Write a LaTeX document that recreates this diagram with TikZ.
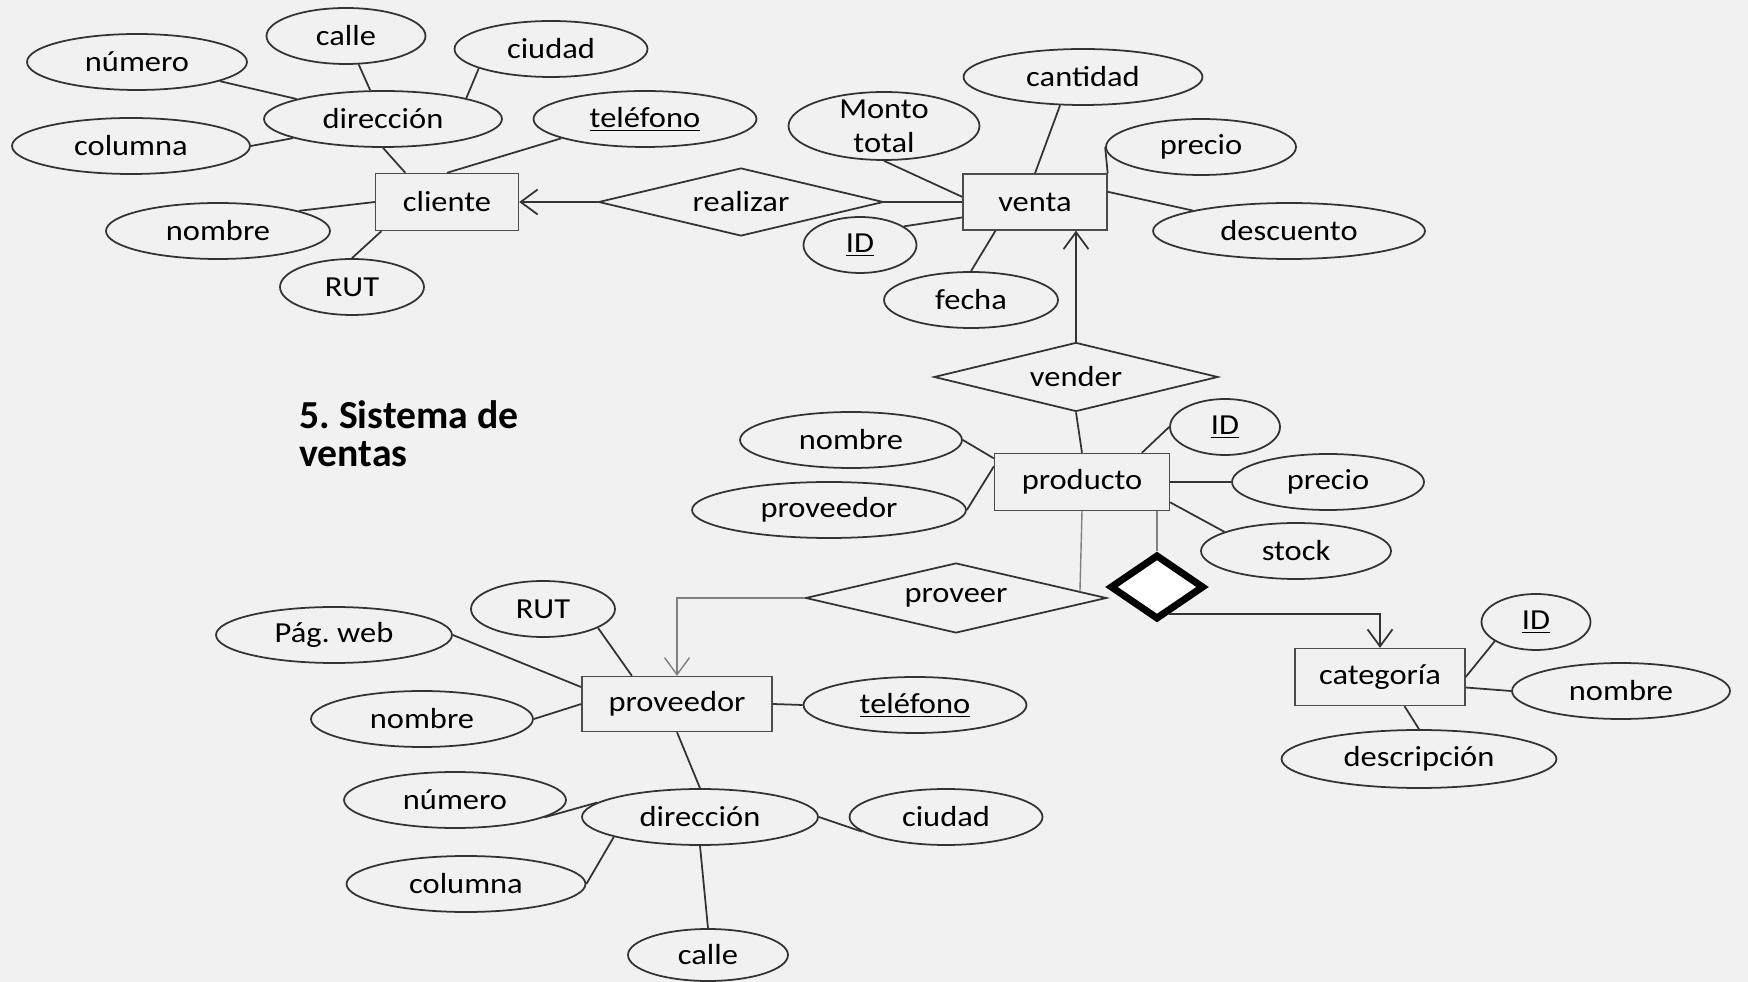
\documentclass[tikz,border=0pt]{standalone}
\usepackage{fontspec}
\setmainfont{Carlito}
\newfontfamily\erfont{Carlito}[FakeStretch=1.12]
\usepackage{tikz}
\usetikzlibrary{arrows.meta, shapes.geometric}
\definecolor{bgcol}{RGB}{241,241,241}
\frenchspacing

\begin{document}
\begin{tikzpicture}[
        x=0.02cm, y=-0.02cm,
        font=\erfont\fontsize{16.5}{19.4}\selectfont,
        entity/.style={rectangle, draw=black!70, line width=0.8pt, minimum height=1.14cm, inner sep=0pt},
        attr/.style={ellipse, draw=black!80, line width=1pt, minimum height=1.12cm, inner sep=0pt},
        rel/.style={diamond, draw=black!80, line width=1pt, aspect=4, inner sep=0pt, minimum height=1.38cm},
        conn/.style={draw=black!80, line width=1pt},
        faint/.style={draw=black!50, line width=0.8pt},
        arrow/.style={-{Straight Barb[length=3.4mm, width=5mm]}}
    ]
        \useasboundingbox (0,0) rectangle (1748,982);
        \fill[bgcol] (0,0) rectangle (1748,982);

        % cliente
        \node[entity, minimum width=2.86cm] (cliente) at (447,202) {cliente};
        \node[attr, minimum width=4.4cm] (numero1) at (137,62) {número};
        \node[attr, minimum width=3.18cm] (calle1) at (346,36) {calle};
        \node[attr, minimum width=3.86cm] (ciudad1) at (551,49) {ciudad};
        \node[attr, minimum width=4.76cm] (direccion1) at (383,119) {dirección};
        \node[attr, minimum width=4.76cm] (columna1) at (131,146) {columna};
        \node[attr, minimum width=4.46cm] (telefono1) at (645,119) {\underline{teléfono}};
        \node[attr, minimum width=4.48cm] (nombre1) at (218,231) {nombre};
        \node[attr, minimum width=2.88cm] (rut1) at (352,287) {RUT};

        \node[rel, minimum width=5.7cm, minimum height=1.36cm] (realizar) at (741,202) {realizar};

        % venta
        \node[entity, minimum width=2.88cm, minimum height=1.12cm] (venta) at (1035,202) {venta};
        \node[attr, minimum width=4.78cm] (cantidad) at (1083,77) {cantidad};
        \node[attr, minimum width=3.82cm, minimum height=1.36cm, inner ysep=-1mm, align=center] (monto) at (884,126) {Monto\\total};
        \node[attr, minimum width=3.8cm] (precio1) at (1201,147) {precio};
        \node[attr, minimum width=5.44cm] (descuento) at (1289,231) {descuento};
        \node[attr, minimum width=2.26cm] (id1) at (860,245) {\underline{ID}};
        \node[attr, minimum width=3.48cm] (fecha) at (971,300) {fecha};

        \node[rel, minimum width=5.68cm] (vender) at (1076,377) {vender};

        % producto
        \node[entity, minimum width=3.5cm] (producto) at (1082,482) {producto};
        \node[attr, minimum width=4.44cm] (nombre2) at (851,440) {nombre};
        \node[attr, minimum width=5.48cm] (proveedor2) at (829,510) {proveedor};
        \node[attr, minimum width=2.2cm] (id2) at (1225,427) {\underline{ID}};
        \node[attr, minimum width=3.84cm] (precio2) at (1328,482) {precio};
        \node[attr, minimum width=3.8cm] (stock) at (1296,551) {stock};

        \node[rel, minimum width=6.02cm, minimum height=1.4cm] (proveer) at (956,598) {proveer};
        \node[rel, draw=black, line width=4pt, fill=white, minimum width=1.88cm, minimum height=1.3cm] (catrel) at (1157,587) {};

        % proveedor
        \node[entity, minimum width=3.8cm, minimum height=1.1cm] (proveedor) at (677,704) {proveedor};
        \node[attr, minimum width=2.88cm] (rut2) at (543,609) {RUT};
        \node[attr, minimum width=4.72cm] (pagweb) at (334,635) {Pág. web};
        \node[attr, minimum width=4.44cm] (nombre3) at (422,719) {nombre};
        \node[attr, minimum width=4.46cm] (telefono2) at (915,705) {\underline{teléfono}};
        \node[attr, minimum width=4.44cm] (numero2) at (455,800) {número};
        \node[attr, minimum width=4.72cm] (direccion2) at (700,817) {dirección};
        \node[attr, minimum width=3.86cm] (ciudad2) at (946,817) {ciudad};
        \node[attr, minimum width=4.78cm] (columna2) at (466,884) {columna};
        \node[attr, minimum width=3.2cm, minimum height=1.04cm] (calle2) at (708,955) {calle};

        % categoria
        \node[entity, minimum width=3.4cm] (categoria) at (1380,677) {categoría};
        \node[attr, minimum width=2.18cm] (id3) at (1536,622) {\underline{ID}};
        \node[attr, minimum width=4.36cm] (nombre4) at (1621,691) {nombre};
        \node[attr, minimum width=5.5cm, minimum height=1.16cm] (descripcion) at (1419,759) {descripción};

        \node[anchor=north west, inner sep=0pt, align=left, font=\normalfont\bfseries\fontsize{22.6}{21.6}\selectfont] (titulo) at (299,400) {5. Sistema de\\ventas};

        \draw[conn] (numero1) -- (direccion1);
        \draw[conn] (calle1) -- (direccion1);
        \draw[conn] (ciudad1.195) -- (direccion1.14);
        \draw[conn] (columna1.east) -- (direccion1.192);
        \draw[conn] (direccion1.south) -- (cliente.145);
        \draw[conn] (telefono1.193) -- (cliente.north);
        \draw[conn] (nombre1.14) -- (cliente.west);
        \draw[conn] (rut1.north) -- (cliente.204);
        \draw[conn, arrow] (realizar.west) -- (cliente.east);
        \draw[conn] (realizar.east) -- (venta.west);

        \draw[conn] (cantidad.231) -- (venta.north);
        \draw[conn] (monto.south) -- (venta.176);
        \draw[conn] (id1.23) -- (venta.192);
        \draw[conn] (fecha.north) -- (venta.216);
        \draw[conn] (precio1.west) -- (venta.north east);
        \draw[conn] (descuento.168) -- (venta.8);
        \draw[conn, arrow] (vender.north) -- (vender.north |- venta.south);
        \draw[conn] (vender.south) -- (producto.north);

        \draw[conn] (nombre2.east) -- (producto.165);
        \draw[conn] (proveedor2.east) -- (producto.170);
        \draw[conn] (id2.west) -- (producto.26);
        \draw[conn] (producto.east) -- (precio2.west);
        \draw[conn] (stock.165) -- (producto.-13);
        \draw[faint] (producto.south) -- (proveer.3);
        \draw[faint] (catrel.north |- producto.south) -- (catrel.north);
        \draw[faint, arrow] (proveer.west) -| (proveedor.north);
        \draw[conn, arrow] (catrel.-66) -| (categoria.north);

        \draw[conn] (id3.205) -- (categoria.east);
        \draw[conn] (categoria.-7) -- (nombre4.west);
        \draw[conn] (categoria.-50) -- (descripcion.north);

        \draw[conn] (pagweb.east) -- (proveedor.170);
        \draw[conn] (rut2.-19) -- (proveedor.148);
        \draw[conn] (nombre3.east) -- (proveedor.west);
        \draw[conn] (proveedor.east) -- (telefono2.west);
        \draw[conn] (proveedor.south) -- (direccion2.north);
        \draw[conn] (numero2.-11) -- (direccion2.172);
        \draw[conn] (columna2.east) -- (direccion2.193);
        \draw[conn] (direccion2.east) -- (ciudad2.190);
        \draw[conn] (direccion2.south) -- (calle2.north);
    \end{tikzpicture}
\end{document}
